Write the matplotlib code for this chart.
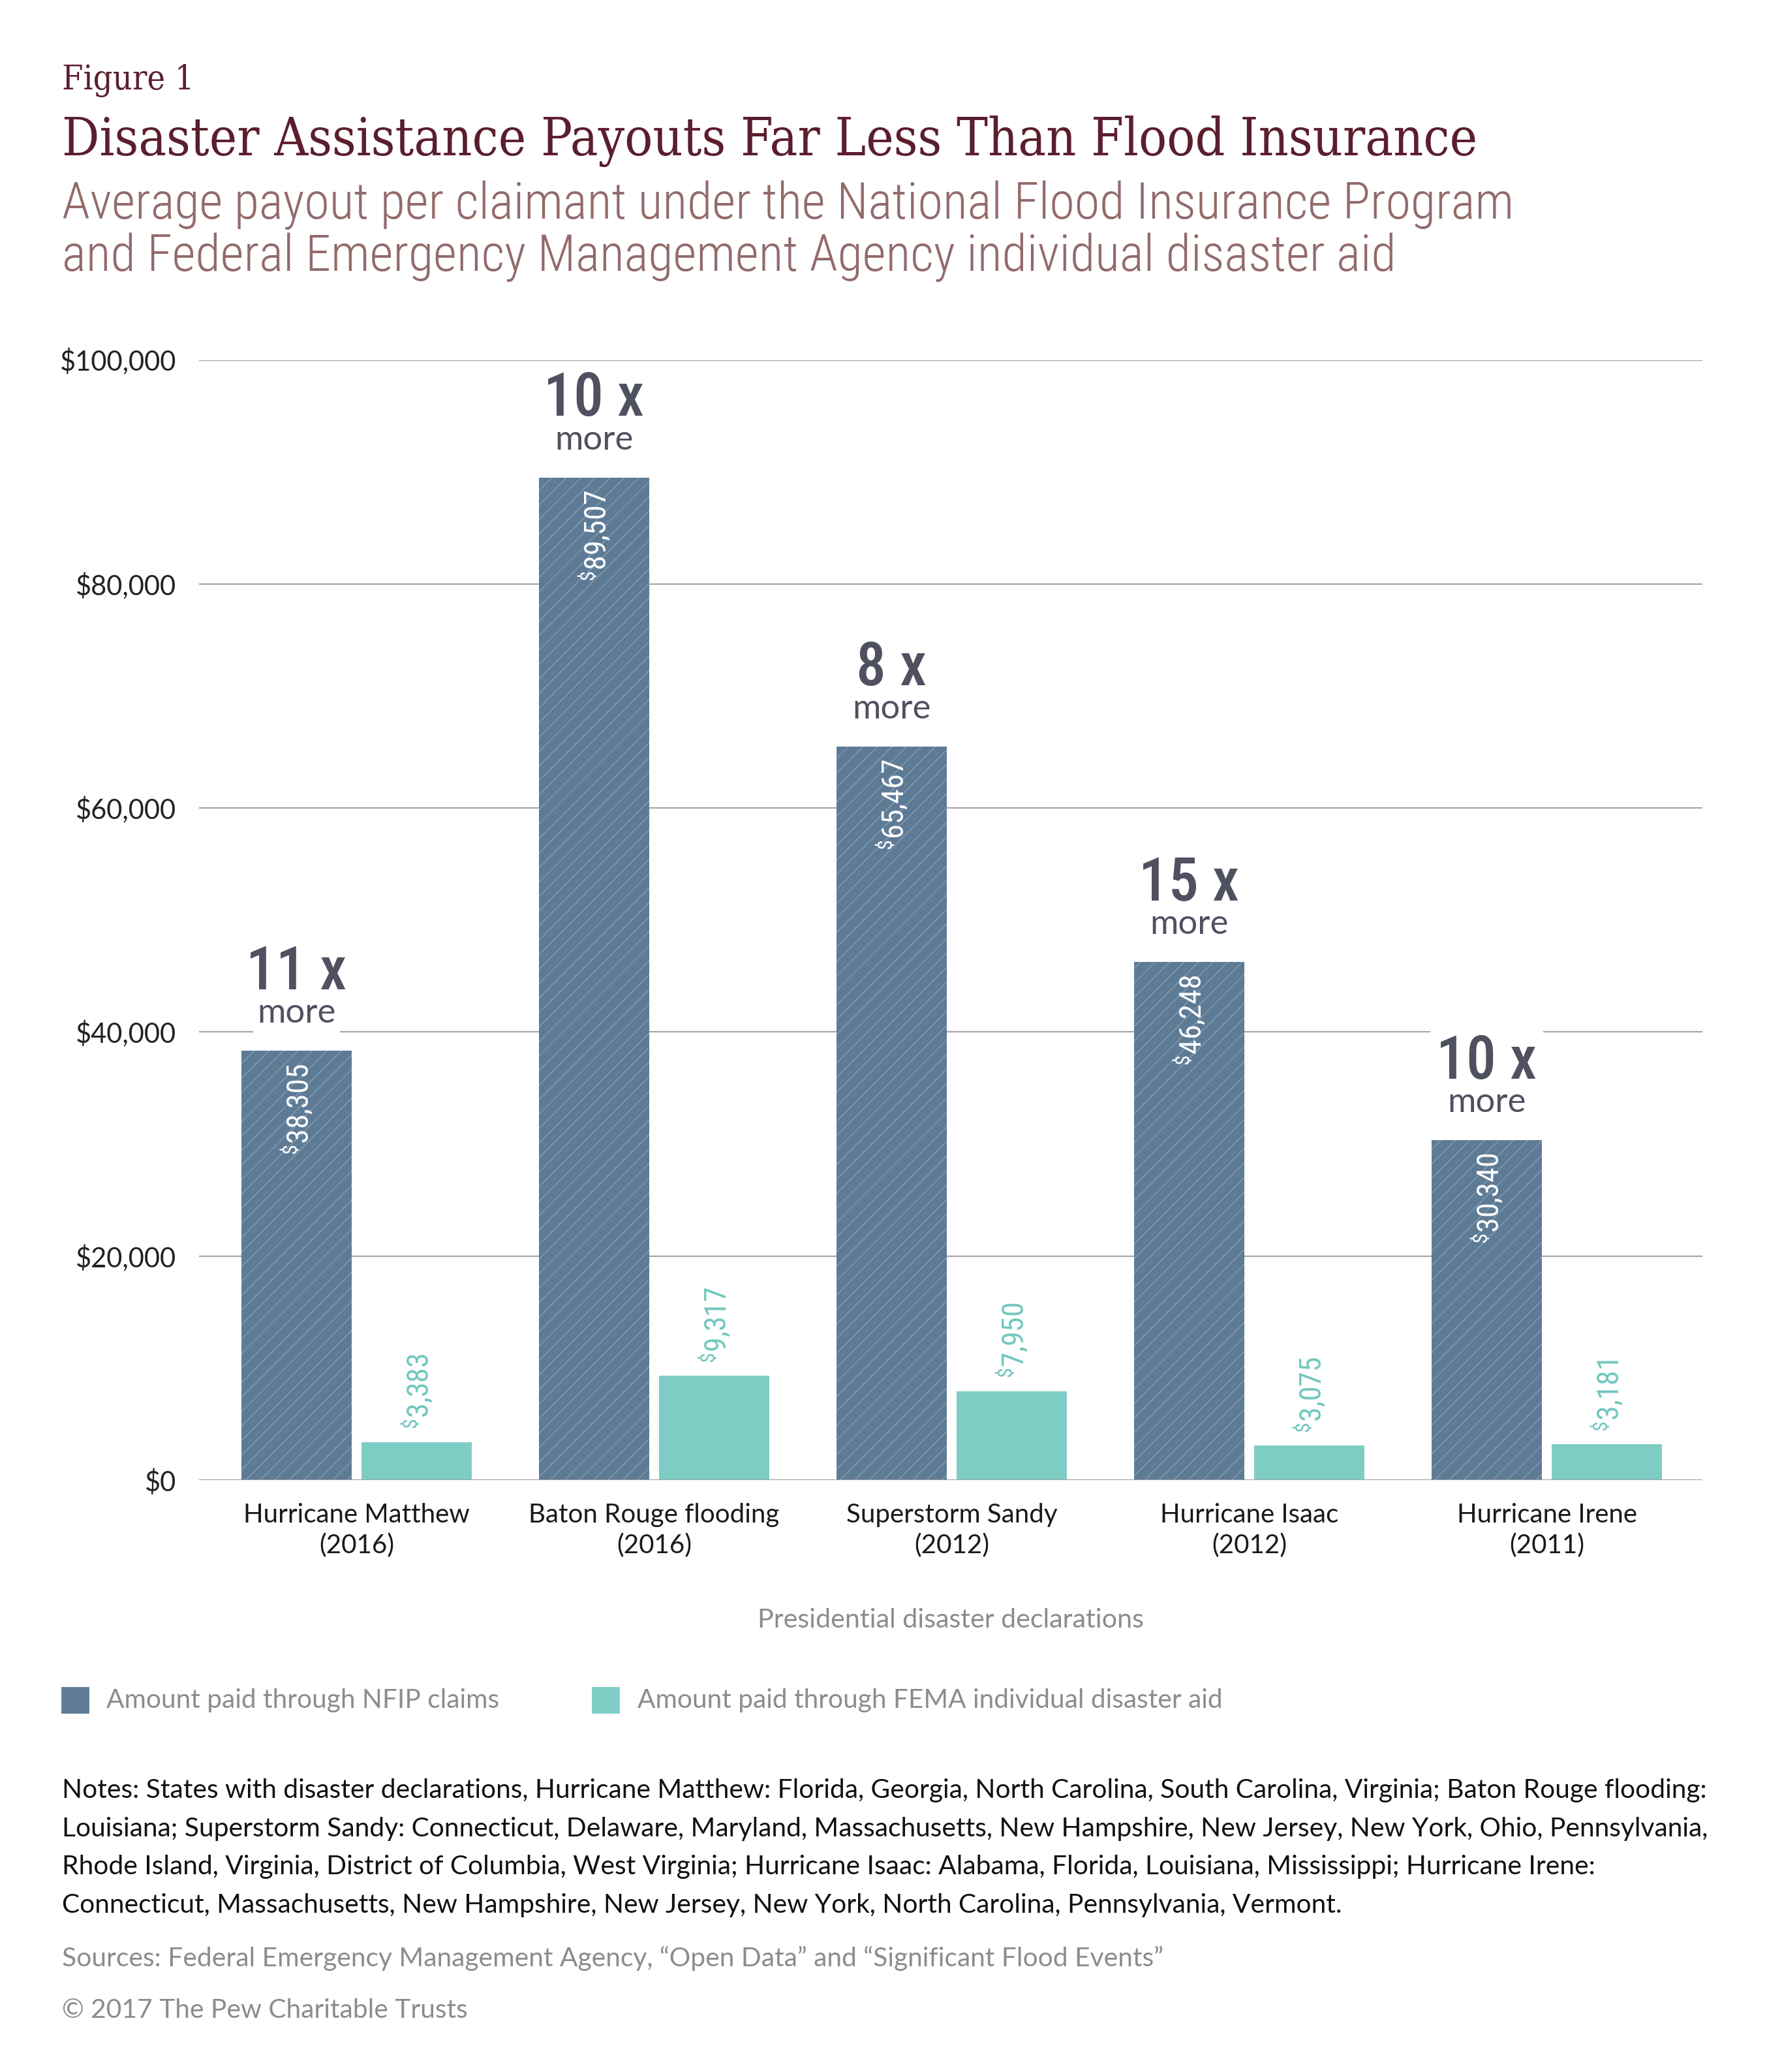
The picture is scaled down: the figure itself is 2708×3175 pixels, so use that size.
import numpy as np
import matplotlib
matplotlib.use('Agg')
import matplotlib.pyplot as plt
import matplotlib.font_manager as fm
from matplotlib.patches import Rectangle

# data
events = ['Hurricane Matthew\n(2016)', 'Baton Rouge flooding\n(2016)', 'Superstorm Sandy\n(2012)',
          'Hurricane Isaac\n(2012)', 'Hurricane Irene\n(2011)']
nfip = [38305, 89507, 65467, 46248, 30340]
fema = [3383, 9317, 7950, 3075, 3181]
ratios = ['11 x', '10 x', '8 x', '15 x', '10 x']
yticks = [0, 20000, 40000, 60000, 80000, 100000]

notes = [
    'Notes: States with disaster declarations, Hurricane Matthew: Florida, Georgia, North Carolina, South Carolina, Virginia; Baton Rouge flooding:',
    'Louisiana; Superstorm Sandy: Connecticut, Delaware, Maryland, Massachusetts, New Hampshire, New Jersey, New York, Ohio, Pennsylvania,',
    'Rhode Island, Virginia, District of Columbia, West Virginia; Hurricane Isaac: Alabama, Florida, Louisiana, Mississippi; Hurricane Irene:',
    'Connecticut, Massachusetts, New Hampshire, New Jersey, New York, North Carolina, Pennsylvania, Vermont.',
]
sources = 'Sources: Federal Emergency Management Agency, \u201cOpen Data\u201d and \u201cSignificant Flood Events\u201d'
copyright_line = '\u00a9 2017 The Pew Charitable Trusts'

DARK = '#5e7b96'
HATCH = '#7f98ad'
TEAL = '#7ecdc5'
TEAL_TXT = '#72c8bf'
MAROON = '#5b1e2d'
ROSE = '#936a6b'
GREY = '#8a8c8e'
RATIO = '#4f5160'

names = {f.name for f in fm.fontManager.ttflist}


def pick(*cands):
    for c in cands:
        if c in names:
            return c
    return 'DejaVu Sans'


BODY = pick('Lato', 'Open Sans', 'Noto Sans', 'DejaVu Sans')
COND = pick('Roboto Condensed', 'Liberation Sans Narrow', 'DejaVu Sans')
SERIF = pick('DejaVu Serif', 'Liberation Serif')

plt.rcParams['font.family'] = BODY
plt.rcParams['hatch.linewidth'] = 0.6
plt.rcParams['mathtext.fontset'] = 'custom'
plt.rcParams['mathtext.default'] = 'regular'

W, H = 2708, 3175
fig = plt.figure(figsize=(W / 200, H / 200), dpi=200)
ax = fig.add_axes([305 / W, 1 - 2268 / H, (2609 - 305) / W, (2268 - 551.5) / H])

x = np.arange(len(events))
off = 0.2018
bw = 0.3706
ax.bar(x - off, nfip, bw, color=DARK, edgecolor=HATCH, hatch='///', linewidth=0, zorder=2)
ax.bar(x + off, fema, bw, color=TEAL, linewidth=0, zorder=2)

ax.set_xlim(-0.5296, 4.523)
ax.set_ylim(0, 100000)
ax.set_yticks(yticks)
ax.set_yticklabels(['${:,}'.format(v) for v in yticks])
ax.set_xticks(x)
ax.set_xticklabels(events, linespacing=1.3)
ax.tick_params(axis='y', length=0, pad=12.5, labelsize=15, labelcolor='#222222')
ax.tick_params(axis='x', length=0, pad=12.5, labelsize=14.5, labelcolor='#1a1a1a')
ax.grid(axis='y', color='#a6a6a6', linewidth=0.8)
ax.set_axisbelow(True)
for s in ax.spines.values():
    s.set_visible(False)
ax.axhline(0, color='#a0a0a0', linewidth=1.0, zorder=3)

for i in range(len(events)):
    # value inside the NFIP bar, reading upward
    ax.annotate(r'${}^{\$}$' + '{:,}'.format(nfip[i]), (x[i] - off, nfip[i]),
                xytext=(0, -7), textcoords='offset points', rotation=90,
                ha='center', va='top', color='white', fontsize=16.5, family=COND)
    # value above the FEMA bar
    ax.annotate(r'${}^{\$}$' + '{:,}'.format(fema[i]), (x[i] + off, fema[i]),
                xytext=(0, 7), textcoords='offset points', rotation=90,
                ha='center', va='bottom', color=TEAL_TXT, fontsize=16.5, family=COND)
    # ratio label above the NFIP bar, white boxes break the gridlines
    ax.annotate(ratios[i], (x[i] - off, nfip[i]), xytext=(0, 34), textcoords='offset points',
                ha='center', va='baseline', color=RATIO, fontsize=33, family=COND,
                fontweight='medium', zorder=4,
                bbox=dict(boxstyle='square,pad=0.1', fc='white', ec='none'))
    ax.annotate('more', (x[i] - off, nfip[i]), xytext=(0, 15.5), textcoords='offset points',
                ha='center', va='baseline', color=RATIO, fontsize=19, zorder=5,
                bbox=dict(boxstyle='square,pad=0.12', fc='white', ec='none'))

# header texts
t_fig = fig.text(95 / W, 1 - 137 / H, 'Figure 1', color=MAROON, fontsize=20,
                 family=SERIF, stretch='condensed', va='baseline')
t_title = fig.text(95 / W, 1 - 238 / H, 'Disaster Assistance Payouts Far Less Than Flood Insurance',
                   color=MAROON, fontsize=28, family=SERIF, stretch='condensed', va='baseline')
t_sub1 = fig.text(95 / W, 1 - 335 / H,
                  'Average payout per claimant under the National Flood Insurance Program',
                  color=ROSE, fontsize=26, family=COND, fontweight='light', va='baseline')
t_sub2 = fig.text(95 / W, 1 - 415 / H,
                  'and Federal Emergency Management Agency individual disaster aid',
                  color=ROSE, fontsize=26, family=COND, fontweight='light', va='baseline')

t_xl = fig.text((305 + 2609) / 2 / W, 1 - 2494 / H, 'Presidential disaster declarations',
                color=GREY, fontsize=14, ha='center', va='baseline')

# legend
fig.add_artist(Rectangle((95 / W, 1 - 2624 / H), 40 / W, 38 / H, color=DARK, transform=fig.transFigure))
fig.add_artist(Rectangle((908 / W, 1 - 2624 / H), 40 / W, 38 / H, color=TEAL, transform=fig.transFigure))
t_leg1 = fig.text(163 / W, 1 - 2605 / H, 'Amount paid through NFIP claims', color=GREY,
                  fontsize=14, va='center')
t_leg2 = fig.text(977 / W, 1 - 2605 / H, 'Amount paid through FEMA individual disaster aid',
                  color=GREY, fontsize=14, va='center')

note_y = [2755, 2814, 2872, 2931]
t_notes = [fig.text(95 / W, 1 - y / H, line, color='#111111', fontsize=14, va='baseline')
           for line, y in zip(notes, note_y)]
t_src = fig.text(95 / W, 1 - 3013 / H, sources, color=GREY, fontsize=14, va='baseline')
t_copy = fig.text(95 / W, 1 - 3092 / H, copyright_line, color=GREY, fontsize=14, va='baseline')

# scale a few texts so their widths match the original layout
renderer = fig.canvas.get_renderer()


def fit(t, width):
    w = t.get_window_extent(renderer=renderer).width
    t.set_fontsize(t.get_fontsize() * width / w)


fit(t_fig, 202)
fit(t_title, 2167)
fit(t_sub1, 2228)
t_sub2.set_fontsize(t_sub1.get_fontsize())
fit(t_xl, 592)
fit(t_leg1, 602)
t_leg2.set_fontsize(t_leg1.get_fontsize())
fit(t_notes[0], 2527)
for t in t_notes[1:] + [t_src, t_copy]:
    t.set_fontsize(t_notes[0].get_fontsize())

fig.savefig('out.png', dpi=200, facecolor='white')
